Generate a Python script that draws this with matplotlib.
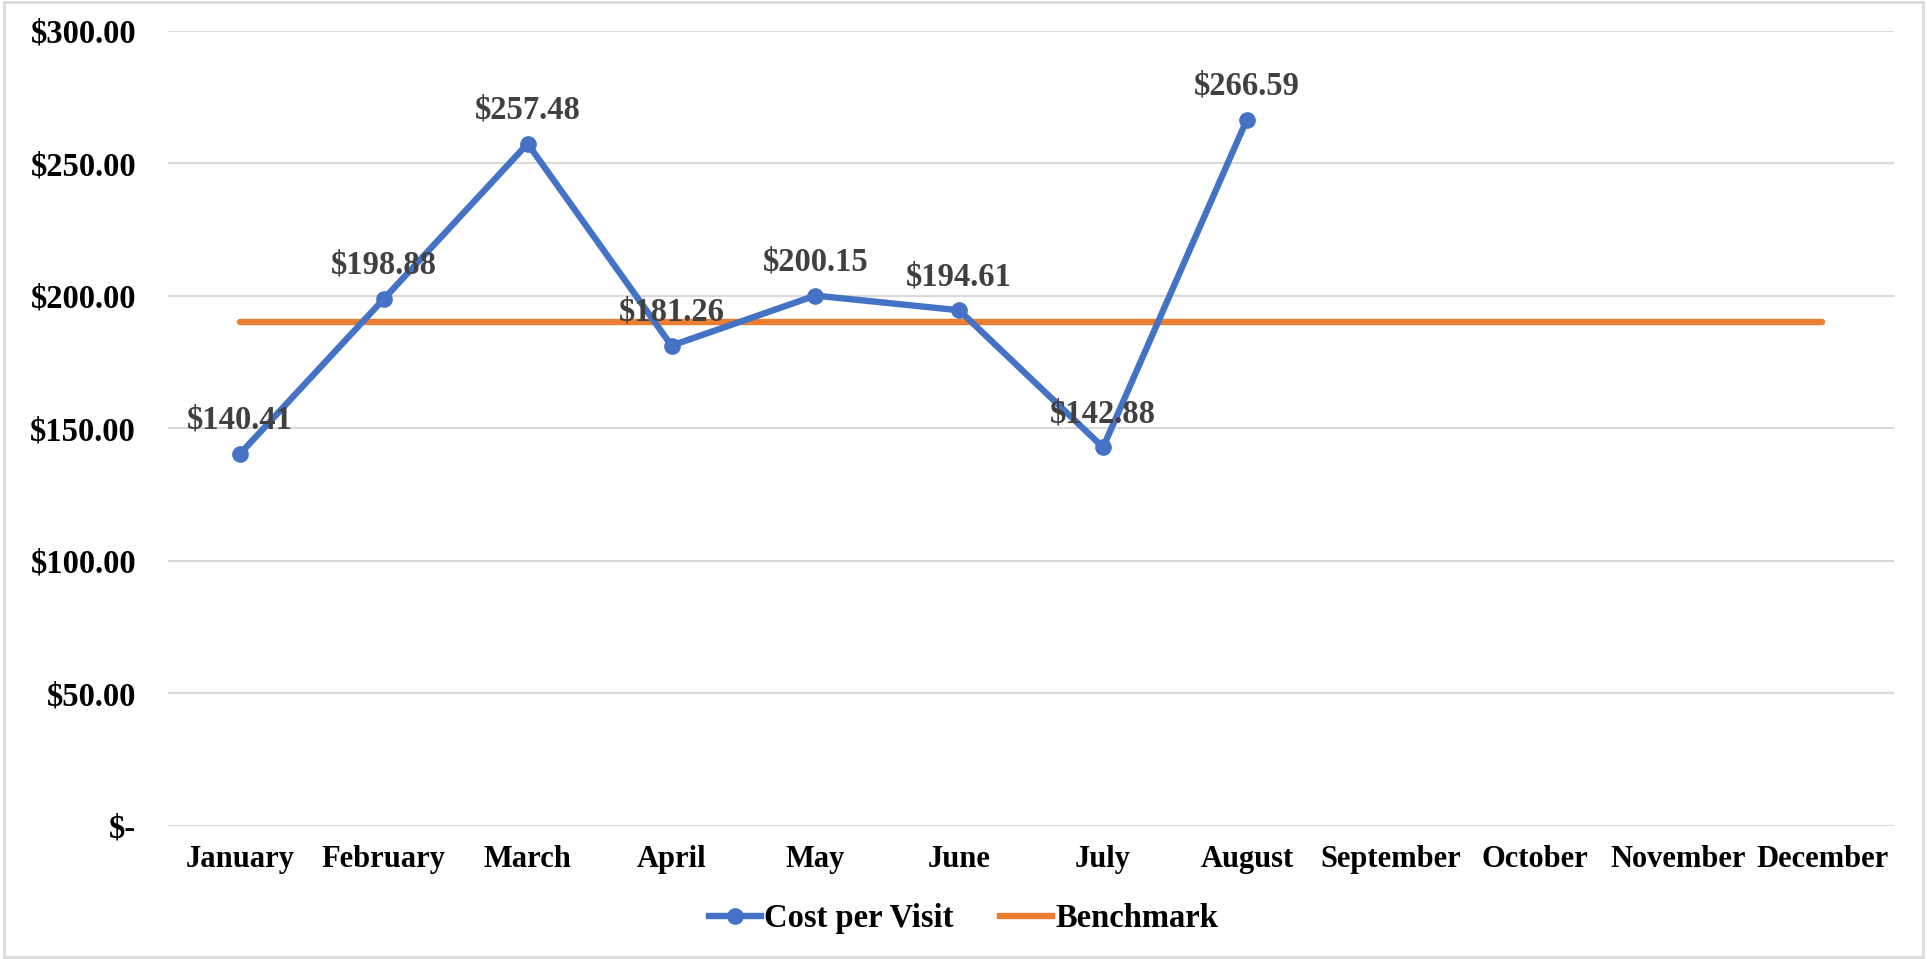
import matplotlib.pyplot as plt
from matplotlib.patches import Rectangle
from matplotlib.ticker import FuncFormatter
from matplotlib.lines import Line2D

# --- data ---
months = ["January", "February", "March", "April", "May", "June", "July",
          "August", "September", "October", "November", "December"]
cost_per_visit = [140.41, 198.88, 257.48, 181.26, 200.15, 194.61, 142.88, 266.59]
benchmark = [190.0] * 12

BLUE = "#4472C4"
ORANGE = "#ED7D31"
GRID = "#D9D9D9"
LABEL = "#404040"

plt.rcParams["font.family"] = ["Liberation Serif", "DejaVu Serif"]
plt.rcParams["font.weight"] = "bold"

fig = plt.figure(figsize=(19.27, 9.59), dpi=100)
ax = fig.add_axes([0.0872, 0.1387, 0.8958, 0.829])

x_all = list(range(len(months)))
x_cost = x_all[:len(cost_per_visit)]

ax.plot(x_all, benchmark, color=ORANGE, lw=4.6, solid_capstyle="round", zorder=3)
ax.plot(x_cost, cost_per_visit, color=BLUE, lw=4.6, marker="o", markersize=11,
        solid_joinstyle="round", zorder=4)

for xi, v in zip(x_cost, cost_per_visit):
    ax.annotate(f"${v:,.2f}", (xi, v), xytext=(0, 13), textcoords="offset points",
                ha="center", va="bottom", fontsize=23.5, fontweight="bold",
                color=LABEL, zorder=5)

ax.set_xlim(-0.5, len(months) - 0.5)
ax.set_ylim(0, 300)
ax.set_yticks([0, 50, 100, 150, 200, 250, 300])
ax.yaxis.set_major_formatter(FuncFormatter(lambda v, p: "$-" if v == 0 else f"${v:,.2f}"))
ax.set_xticks(x_all)
ax.set_xticklabels(months)
ax.tick_params(axis="both", length=0, colors="black")
ax.tick_params(axis="y", pad=23, labelsize=23.5)
ax.tick_params(axis="x", pad=14, labelsize=22)
for lab in ax.get_xticklabels() + ax.get_yticklabels():
    lab.set_fontweight("bold")

ax.grid(axis="y", color=GRID, lw=1.5)
ax.set_axisbelow(True)
for s in ax.spines.values():
    s.set_visible(False)

handles = [
    Line2D([], [], color=BLUE, lw=4.6, marker="o", markersize=11),
    Line2D([], [], color=ORANGE, lw=4.6),
]
fig.legend(handles, ["Cost per Visit", "Benchmark"], loc="center",
           bbox_to_anchor=(0.5, 0.042), ncol=2, frameon=False,
           prop={"size": 23.5, "weight": "bold"}, handlelength=1.6,
           handletextpad=0.1, columnspacing=1.4)

# light chart-area border
fig.patches.append(Rectangle((0.002, 0.002), 0.996, 0.996, transform=fig.transFigure,
                             fill=False, edgecolor=GRID, lw=2))

fig.savefig("out.png", dpi=100)
